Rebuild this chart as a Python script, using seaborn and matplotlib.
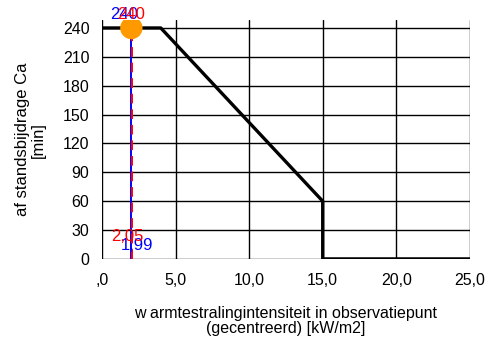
import pandas as pd
import seaborn as sns
import numpy as np
import matplotlib.pyplot as plt

# curve: afstandsbijdrage vs warmtestralingintensiteit
curve_x = [0.0, 4.0, 15.0, 15.0, 25.0]
curve_y = [240, 240, 60, 0, 0]

# observation point results
obs_red = 2.05
obs_blue = 1.99
obs_ca = 240

xticks = [0, 5, 10, 15, 20, 25]
xticklabels = [',0', '5,0', '10,0', '15,0', '20,0', '25,0']
yticks = [0, 30, 60, 90, 120, 150, 180, 210, 240]

sns.set_style('white')
plt.rcParams['font.family'] = ['Liberation Sans', 'DejaVu Sans']

fig = plt.figure(figsize=(4.9, 3.38), dpi=100)
ax = fig.add_axes([0.208, 0.234, 0.751, 0.706])

curve = pd.DataFrame({'x': curve_x, 'y': curve_y})
sns.lineplot(data=curve, x='x', y='y', sort=False, estimator=None, color='black',
             lw=2.4, ax=ax, zorder=3)

vred = pd.DataFrame({'x': [obs_red, obs_red], 'y': [0, obs_ca]})
vblue = pd.DataFrame({'x': [obs_blue, obs_blue], 'y': [0, obs_ca]})
sns.lineplot(data=vblue, x='x', y='y', estimator=None, sort=False, color='blue',
             lw=1.4, ax=ax, zorder=4)
sns.lineplot(data=vred, x='x', y='y', estimator=None, sort=False, color='red',
             lw=1.4, ax=ax, zorder=5, linestyle=(0, (5, 3)))

pt = pd.DataFrame({'x': [2.0], 'y': [obs_ca]})
sns.scatterplot(data=pt, x='x', y='y', color='#ff9900', s=260, edgecolor='none', ax=ax, zorder=6)

# value labels
ax.text(1.5, 254, str(obs_ca), color='blue', fontsize=12, ha='center', va='center', zorder=7)
ax.text(2.0, 254, str(obs_ca), color='red', fontsize=12, ha='center', va='center', zorder=8)
ax.text(1.75, 23, '2,05', color='red', fontsize=12, ha='center', va='center', zorder=8)
ax.text(2.4, 14, '1,99', color='blue', fontsize=12, ha='center', va='center', zorder=7)

ax.set_xlim(0, 25)
ax.set_ylim(0, 248)
ax.set_xticks(xticks)
ax.set_xticklabels(xticklabels)
ax.set_yticks(yticks)
ax.grid(True, color='black', lw=1)
ax.set_axisbelow(True)
for s in ax.spines.values():
    s.set_visible(False)
ax.tick_params(axis='both', direction='out', length=5, width=1, color='black',
               labelsize=11.5, labelcolor='black')
ax.tick_params(axis='y', pad=4)
ax.tick_params(axis='x', pad=5)

ax.set_xlabel('w armtestralingintensiteit in observatiepunt\n(gecentreerd) [kW/m2]',
              fontsize=11.5, labelpad=13, linespacing=1.05, color='black')
ax.set_ylabel('af standsbijdrage Ca\n[min]', fontsize=12, labelpad=12, linespacing=1.05,
              color='black')

fig.savefig('out.png', dpi=100)
